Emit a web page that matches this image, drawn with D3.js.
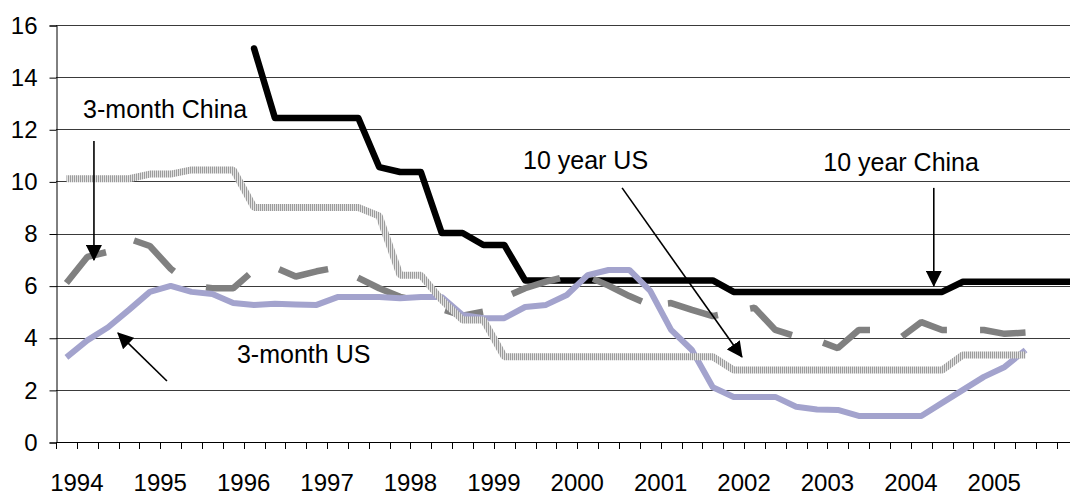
<!DOCTYPE html>
<html>
<head>
<meta charset="utf-8">
<script src="https://cdn.jsdelivr.net/npm/d3@7"></script>
<style>
  body { margin: 0; background: #fff; }
  text { font-family: "Liberation Sans", Arial, sans-serif; fill: #000; }
</style>
</head>
<body>
<div id="chart-area"></div>
<script>
// quarterly categories, 1994Q1 .. 2006Q2
var years = [1994, 1995, 1996, 1997, 1998, 1999, 2000, 2001, 2002, 2003, 2004, 2005, 2006];
var yearLabels = ["1994", "1995", "1996", "1997", "1998", "1999", "2000", "2001", "2002", "2003", "2004", "2005"];
var yTicks = [0, 2, 4, 6, 8, 10, 12, 14, 16];

var tenYearChina = [null, null, null, null, null, null, null, null, null, 15.1,
    12.43, 12.43, 12.43, 12.43, 12.43, 10.55, 10.36, 10.36, 8.02, 8.02,
    7.56, 7.56, 6.2, 6.2, 6.2, 6.2, 6.2, 6.2, 6.2, 6.2,
    6.2, 6.2, 5.76, 5.76, 5.76, 5.76, 5.76, 5.76, 5.76, 5.76,
    5.76, 5.76, 5.76, 6.15, 6.15, 6.15, 6.15, 6.15, 6.15, 6.15];

var threeMonthChina = [6.1, 7.1, 7.3, 7.8, 7.52, 6.65, 6.0, 5.9, 5.9, 6.6,
    6.7, 6.35, 6.55, 6.7, 6.3, 5.9, 5.57, 5.4, 5.1, 4.85,
    5.0, 5.55, 5.9, 6.15, 6.35, 6.35, 6.0, 5.6, 5.25, 5.33,
    5.07, 4.83, 5.0, 5.15, 4.3, 4.05, 3.9, 3.6, 4.3, 4.3,
    4.0, 4.6, 4.3, 4.3, 4.3, 4.15, 4.2, null, null, null];

var threeMonthUS = [3.25, 3.9, 4.4, 5.07, 5.76, 5.99, 5.76, 5.68, 5.33, 5.26,
    5.3, 5.28, 5.26, 5.56, 5.56, 5.56, 5.52, 5.56, 5.56, 4.87,
    4.75, 4.75, 5.18, 5.26, 5.64, 6.4, 6.6, 6.6, 5.8, 4.3,
    3.53, 2.1, 1.73, 1.73, 1.73, 1.35, 1.25, 1.23, 1.0, 1.0,
    1.0, 1.0, 1.5, 2.0, 2.5, 2.88, 3.53, null, null, null];

var tenYearUS = [10.1, 10.1, 10.1, 10.1, 10.28, 10.28, 10.44, 10.44, 10.44, 9.0,
    9.0, 9.0, 9.0, 9.0, 9.0, 8.67, 6.4, 6.4, 5.45, 4.68,
    4.68, 3.27, 3.27, 3.27, 3.27, 3.27, 3.27, 3.27, 3.27, 3.27,
    3.27, 3.27, 2.76, 2.76, 2.76, 2.76, 2.76, 2.76, 2.76, 2.76,
    2.76, 2.76, 2.76, 3.34, 3.34, 3.34, 3.34, null, null, null];

// where the long dashes of the 3-month China line sit (quarter index, start/end)
var dashSpans = [[0.5, 2.4], [3.74, 5.66], [7.19, 9.26], [10.7, 13.05], [14.48, 16.74],
    [18.66, 20.48], [21.87, 24.17], [25.76, 28.1], [29.35, 31.75], [33.29, 35.3],
    [36.79, 39.04], [40.58, 42.73], [44.32, 46.6]];

// annotations: [quarter index, value] for text start and arrow ends
var notes = [
    {label: "3-month China", at: [1.3, 12.43], from: [1.82, 11.55], to: [1.82, 6.98]},
    {label: "3-month US", at: [8.68, 3.03], from: [5.32, 2.34], to: [2.97, 4.18]},
    {label: "10 year US", at: [22.4, 10.47], from: [27.15, 9.75], to: [32.9, 3.26]},
    {label: "10 year China", at: [36.8, 10.4], from: [42.1, 9.75], to: [42.1, 5.99]}
];

var quarters = [];
years.forEach((yr) => {
    ["Q1", "Q2", "Q3", "Q4"].forEach((q) => { quarters.push(yr + q); });
});
quarters = quarters.slice(0, 50);

var width = 1070, height = 494;
var plotLeft = 56, step = 20.85;
var plotTop = 25, plotBottom = 442;

var svg = d3.select("#chart-area").append("svg")
    .attr("width", width)
    .attr("height", height);

var defs = svg.append("defs");
var pat = defs.append("pattern")
    .attr("id", "stripe")
    .attr("patternUnits", "userSpaceOnUse")
    .attr("width", 2).attr("height", 4);
pat.append("rect").attr("width", 2).attr("height", 4).attr("fill", "#e2e2e2");
pat.append("rect").attr("width", 1).attr("height", 4).attr("fill", "#9c9c9c");

defs.append("marker")
    .attr("id", "head")
    .attr("markerUnits", "userSpaceOnUse")
    .attr("viewBox", "0 0 16 16")
    .attr("markerWidth", 16).attr("markerHeight", 16)
    .attr("refX", 15).attr("refY", 8)
    .attr("orient", "auto")
    .append("path")
    .attr("d", "M0,0 L16,8 L0,16 Z")
    .attr("fill", "#000");

var x = d3.scaleBand()
    .domain(quarters)
    .range([plotLeft, plotLeft + step * quarters.length])
    .padding(0);

// quarter index -> pixel, used for boundaries and annotations
var xq = d3.scaleLinear()
    .domain([0, quarters.length])
    .range([plotLeft, plotLeft + step * quarters.length]);

var y = d3.scaleLinear()
    .domain([0, 16])
    .range([plotBottom, plotTop]);

// gridlines
svg.append("g")
    .selectAll("line")
    .data(yTicks.filter((d) => d > 0))
    .enter()
    .append("line")
    .attr("x1", plotLeft).attr("x2", width)
    .attr("y1", (d) => Math.round(y(d)) + 0.5)
    .attr("y2", (d) => Math.round(y(d)) + 0.5)
    .attr("stroke", "#3a3a3a")
    .attr("stroke-width", 1);

// y axis
var yAxis = svg.append("g")
    .attr("transform", "translate(" + (plotLeft + 0.5) + ",0.5)")
    .call(d3.axisLeft(y).tickValues(yTicks).tickSize(7).tickPadding(12));
yAxis.select(".domain").attr("stroke", "#000");
yAxis.selectAll(".tick line").attr("stroke", "#000");
yAxis.selectAll("text")
    .style("font-size", "24px")
    .style("font-family", "'Liberation Sans', Arial, sans-serif");

// x axis: ticks between quarters
var xg = svg.append("g");
xg.append("line")
    .attr("x1", plotLeft).attr("x2", width)
    .attr("y1", plotBottom + 0.5).attr("y2", plotBottom + 0.5)
    .attr("stroke", "#000");
xg.selectAll(".qtick")
    .data(d3.range(quarters.length + 1))
    .enter()
    .append("line")
    .attr("class", "qtick")
    .attr("x1", (d) => Math.round(xq(d)) + 0.5)
    .attr("x2", (d) => Math.round(xq(d)) + 0.5)
    .attr("y1", plotBottom).attr("y2", plotBottom + 7)
    .attr("stroke", "#000");
xg.selectAll(".ylab")
    .data(yearLabels)
    .enter()
    .append("text")
    .attr("class", "ylab")
    .attr("x", (d, i) => xq(4 * i + 1))
    .attr("y", 491)
    .attr("text-anchor", "middle")
    .style("font-size", "24px")
    .text((d) => d);

function cx(i) { return x(quarters[i]) + x.bandwidth() / 2; }

function line(values) {
    return d3.line()
        .defined((d) => d != null)
        .x((d, i) => cx(i))
        .y((d) => y(d))(values);
}

// length along a path where it reaches pixel px (x is monotonic)
function lengthAtX(node, px) {
    var lo = 0, hi = node.getTotalLength();
    for (var k = 0; k < 40; k++) {
        var mid = (lo + hi) / 2;
        if (node.getPointAtLength(mid).x < px) lo = mid; else hi = mid;
    }
    return (lo + hi) / 2;
}

var plot = svg.append("g");

plot.append("path")
    .attr("d", line(tenYearChina))
    .attr("fill", "none")
    .attr("stroke", "#000")
    .attr("stroke-width", 6.5)
    .attr("stroke-linejoin", "round")
    .attr("stroke-linecap", "round");

var chinaPath = plot.append("path")
    .attr("d", line(threeMonthChina))
    .attr("fill", "none")
    .attr("stroke", "#808080")
    .attr("stroke-width", 6.5)
    .attr("stroke-linejoin", "bevel");

// build dash array from the dash spans
var node = chinaPath.node();
var marks = [];
dashSpans.forEach((s) => {
    marks.push(lengthAtX(node, xq(s[0])));
    marks.push(lengthAtX(node, xq(s[1])));
});
var dash = [];
for (var k = 1; k < marks.length; k++) {
    dash.push(Math.max(0.1, marks[k] - marks[k - 1]).toFixed(2));
}
dash.push(400);
chinaPath.attr("stroke-dasharray", dash.join(" "));

plot.append("path")
    .attr("d", line(threeMonthUS))
    .attr("fill", "none")
    .attr("stroke", "#a3a3cd")
    .attr("stroke-width", 6)
    .attr("stroke-linejoin", "bevel");

plot.append("path")
    .attr("d", line(tenYearUS))
    .attr("fill", "none")
    .attr("stroke", "url(#stripe)")
    .attr("stroke-width", 7)
    .attr("stroke-linejoin", "bevel");

// annotations
var ann = svg.append("g");
notes.forEach((n) => {
    ann.append("text")
        .attr("x", xq(n.at[0]))
        .attr("y", y(n.at[1]))
        .style("font-size", "25px")
        .text(n.label);
    ann.append("line")
        .attr("x1", xq(n.from[0])).attr("y1", y(n.from[1]))
        .attr("x2", xq(n.to[0])).attr("y2", y(n.to[1]))
        .attr("stroke", "#000")
        .attr("stroke-width", 1.6)
        .attr("marker-end", "url(#head)");
});
</script>
</body>
</html>
